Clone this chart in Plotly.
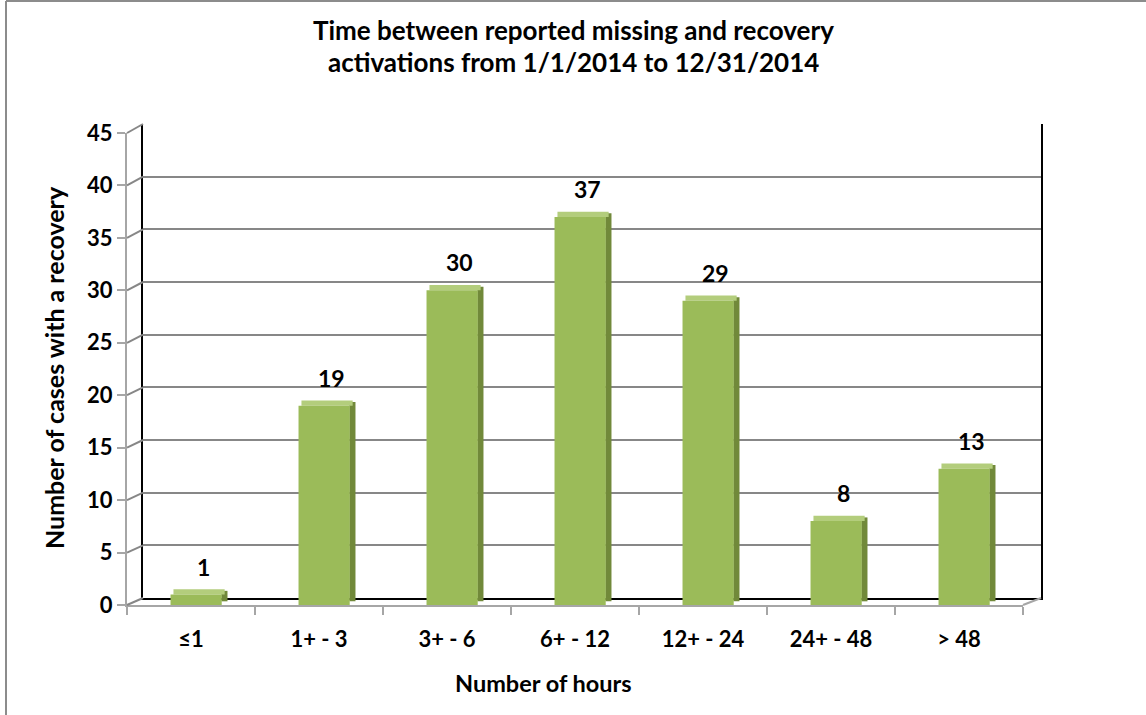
import plotly.graph_objects as go

# ---- data ----
categories = ["≤1", "1+ - 3", "3+ - 6", "6+ - 12", "12+ - 24", "24+ - 48", "> 48"]
cases = [1, 19, 30, 37, 29, 8, 13]
y_ticks = [0, 5, 10, 15, 20, 25, 30, 35, 40, 45]

title_line1 = "Time between reported missing and recovery"
title_line2 = "activations from 1/1/2014 to 12/31/2014"
x_title = "Number of hours"
y_title = "Number of cases with a recovery"

W, H = 1146, 715
FONT = "Lato"

def fx(px):
    return px / W

def fy(py):
    return 1 - py / H

# front frame (bars, labels) and back wall frame (grid)
FRONT_X = (127, 1023)
FRONT_Y = (605, 133)   # y pixel for 0 and 45
BACK_X = (143, 1041)
BACK_Y = (598, 124)
YMAX = 45

FACE = "#9bbb59"
SIDE = "#71893a"
TOP = "#b3cd7c"

fig = go.Figure()

n = len(categories)
# side face
fig.add_trace(go.Bar(
    x=categories, y=cases, base=0.35, xaxis="x2", yaxis="y2",
    offset=0.237, width=0.048, marker=dict(color=SIDE, line=dict(width=0)),
    hoverinfo="skip", showlegend=False))
# top face
fig.add_trace(go.Bar(
    x=categories, y=[0.5] * n, base=cases, xaxis="x2", yaxis="y2",
    offset=-0.137, width=0.4, marker=dict(color=TOP, line=dict(width=0)),
    hoverinfo="skip", showlegend=False))
# front face
fig.add_trace(go.Bar(
    x=categories, y=cases, xaxis="x2", yaxis="y2",
    offset=-0.16, width=0.4, marker=dict(color=FACE, line=dict(width=0)),
    showlegend=False))

# dummy trace to make the back wall subplot exist
fig.add_trace(go.Scatter(x=[0, 1], y=[None, None], xaxis="x", yaxis="y",
                         mode="lines", showlegend=False, hoverinfo="skip"))

# data labels
for c, v in zip(categories, cases):
    fig.add_annotation(x=c, y=v, xref="x2", yref="y2", text=str(v),
                       showarrow=False, xshift=12, yshift=28, yanchor="middle",
                       font=dict(family=FONT, size=23, color="black", weight=700))

shapes = []
GRID = "#878787"
FRONTLINE = "#a6a6a6"
# diagonal connectors from front axis ticks to back wall
for t in y_ticks:
    yfp = FRONT_Y[0] + (FRONT_Y[1] - FRONT_Y[0]) * t / YMAX
    ybp = BACK_Y[0] + (BACK_Y[1] - BACK_Y[0]) * t / YMAX
    shapes.append(dict(type="line", xref="paper", yref="paper",
                       x0=fx(FRONT_X[0]), y0=fy(yfp), x1=fx(BACK_X[0]), y1=fy(ybp),
                       line=dict(color=GRID, width=2)))
# floor right diagonal
shapes.append(dict(type="line", xref="paper", yref="paper",
                   x0=fx(FRONT_X[1]), y0=fy(FRONT_Y[0]), x1=fx(BACK_X[1]), y1=fy(BACK_Y[0]),
                   line=dict(color=FRONTLINE, width=2)))
# outer border (left & top)
shapes.append(dict(type="line", xref="paper", yref="paper",
                   x0=fx(6), y0=0, x1=fx(6), y1=fy(1), line=dict(color="#8c8c8c", width=2)))
shapes.append(dict(type="line", xref="paper", yref="paper",
                   x0=fx(6), y0=fy(1), x1=1, y1=fy(1), line=dict(color="#8c8c8c", width=2)))

fig.update_layout(
    template="none",
    width=W, height=H,
    margin=dict(l=0, r=0, t=0, b=0, pad=0, autoexpand=False),
    paper_bgcolor="white", plot_bgcolor="rgba(0,0,0,0)",
    barmode="overlay",
    showlegend=False,
    xaxis=dict(domain=[fx(BACK_X[0]), fx(BACK_X[1])], range=[0, 1], automargin=False,
               showgrid=False, zeroline=False, showticklabels=False, ticks="",
               showline=True, linecolor="black", linewidth=2, anchor="y", fixedrange=True),
    yaxis=dict(domain=[fy(BACK_Y[0]), fy(BACK_Y[1])], range=[0, YMAX], automargin=False,
               tickvals=y_ticks, showticklabels=False, ticks="",
               showgrid=True, gridcolor=GRID, gridwidth=2, zeroline=False,
               showline=True, linecolor="black", linewidth=2, mirror=True,
               anchor="x", fixedrange=True),
    xaxis2=dict(domain=[fx(FRONT_X[0]), fx(FRONT_X[1])], anchor="y2", automargin=False,
                type="category", categoryorder="array", categoryarray=categories,
                range=[-0.5, n - 0.5],
                showgrid=False, zeroline=False, showline=True, linecolor=FRONTLINE, linewidth=2,
                ticks="outside", tickson="boundaries", ticklen=8, tickcolor=FRONTLINE, tickwidth=2,
                tickfont=dict(family=FONT, size=22, color="black", weight=700),
                ticklabelstandoff=14, fixedrange=True),
    yaxis2=dict(domain=[fy(FRONT_Y[0]), fy(FRONT_Y[1])], anchor="x2", automargin=False,
                range=[0, YMAX], tickvals=y_ticks,
                showgrid=False, zeroline=False, showline=True, linecolor=FRONTLINE, linewidth=2,
                ticks="outside", ticklen=8, tickcolor=FRONTLINE, tickwidth=2,
                tickfont=dict(family=FONT, size=22, color="black", weight=700),
                fixedrange=True),
    shapes=shapes,
)

fig.add_annotation(text=title_line1, xref="paper", yref="paper", x=fx(573), y=fy(30),
                   showarrow=False, xanchor="center", yanchor="middle",
                   font=dict(family=FONT, size=26, color="black", weight=700))
fig.add_annotation(text=title_line2, xref="paper", yref="paper", x=fx(573), y=fy(62),
                   showarrow=False, xanchor="center", yanchor="middle",
                   font=dict(family=FONT, size=26, color="black", weight=700))
fig.add_annotation(text=x_title, xref="paper", yref="paper", x=fx(543), y=fy(683),
                   showarrow=False, xanchor="center", yanchor="middle",
                   font=dict(family=FONT, size=23.5, color="black", weight=700))
fig.add_annotation(text=y_title, xref="paper", yref="paper", x=fx(54), y=fy(368),
                   showarrow=False, textangle=-90, xanchor="center", yanchor="middle",
                   font=dict(family=FONT, size=25, color="black", weight=700))

fig.write_html("out.html", config={"displayModeBar": False},
               post_script="document.body.style.margin='0';document.body.style.overflow='hidden';")
